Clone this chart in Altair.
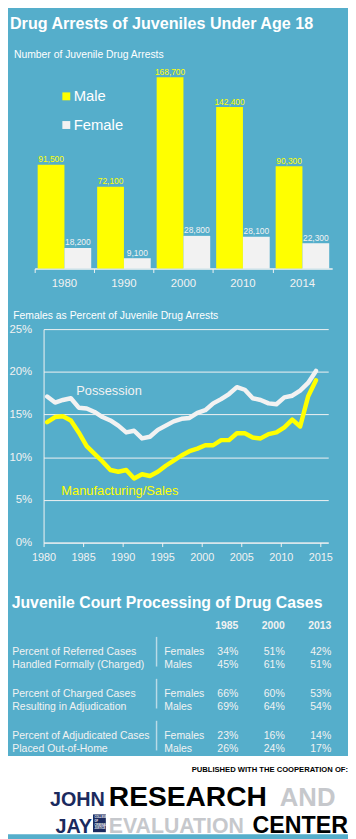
import altair as alt
import pandas as pd

BLUE = "#55AECB"
YELLOW = "#FFFF00"
LIGHT = "#F2F2F2"
NAVY = "#1B2A5E"
GRAY = "#C6C8CC"
FONT = "Liberation Sans, Arial, sans-serif"

W, H = 344, 831

# ---------------- data: bar chart ----------------
bar_years = ["1980", "1990", "2000", "2010", "2014"]
sexes = ["Male", "Female"]
male_arrests = [91500, 72100, 168700, 142400, 90300]
female_arrests = [18200, 9100, 28800, 28100, 22300]

# ---------------- data: line chart ----------------
line_years = list(range(1980, 2015))
series_names = ["Possession", "Manufacturing/Sales"]
possession_pct = [17.1, 16.4, 16.7, 16.9, 15.8, 15.7, 15.3, 14.7, 14.3, 13.7,
                  12.9, 13.1, 12.2, 12.4, 13.2, 13.7, 14.2, 14.5, 14.6, 15.2,
                  15.5, 16.3, 16.8, 17.4, 18.2, 17.9, 16.9, 16.7, 16.3, 16.2,
                  17.0, 17.2, 17.8, 18.7, 20.1]
sales_pct = [14.1, 14.7, 14.8, 14.3, 12.9, 11.3, 10.4, 9.5, 8.5, 8.3,
             8.5, 7.5, 8.0, 7.8, 8.3, 9.0, 9.6, 10.2, 10.7, 11.0,
             11.4, 11.4, 12.0, 12.0, 12.8, 12.8, 12.3, 12.2, 12.7, 12.9,
             13.5, 14.4, 13.6, 17.1, 19.0]
y_ticks = [0, 5, 10, 15, 20, 25]
x_ticks = [1980, 1985, 1990, 1995, 2000, 2005, 2010, 2015]

# ---------------- data: table ----------------
table_years = ["1985", "2000", "2013"]
table_measures = [
    ["Percent of Referred Cases", "Handled Formally (Charged)"],
    ["Percent of Charged Cases", "Resulting in Adjudication"],
    ["Percent of Adjudicated Cases", "Placed Out-of-Home"],
]
table_sexes = ["Females", "Males"]
female_pct = [[34, 51, 42], [66, 60, 53], [23, 16, 14]]
male_pct = [[45, 61, 51], [69, 64, 54], [26, 24, 17]]
table_groups = [1, 2, 3]

# ---------------- frames ----------------
bars_df = pd.DataFrame(
    [{"year": y, "sex": "Male", "count": m} for y, m in zip(bar_years, male_arrests)]
    + [{"year": y, "sex": "Female", "count": f} for y, f in zip(bar_years, female_arrests)]
)
line_df = pd.DataFrame(
    [{"year": y, "series": series_names[0], "pct": v} for y, v in zip(line_years, possession_pct)]
    + [{"year": y, "series": series_names[1], "pct": v} for y, v in zip(line_years, sales_pct)]
)
left_rows, value_rows = [], []
for g, meas, fv, mv in zip(table_groups, table_measures, female_pct, male_pct):
    left_rows.append({"group": g, "col": "label", "text": "\n".join(meas)})
    left_rows.append({"group": g, "col": "sex", "text": "\n".join(table_sexes)})
    for yr, a, b in zip(table_years, fv, mv):
        value_rows.append({"group": g, "year": yr, "text": f"{a}%\n{b}%"})
left_df = pd.DataFrame(left_rows)
value_df = pd.DataFrame(value_rows)
header_df = pd.DataFrame({"year": table_years})
group_df = pd.DataFrame({"group": table_groups})
one_row = pd.DataFrame({"k": [0]})


def label(text, x, y, size, color="white", weight="normal", align="left",
          baseline="alphabetic", font=FONT, line_height=None):
    kw = dict(text=text, align=align, baseline=baseline, fontSize=size,
              fontWeight=weight, color=color, font=font)
    if line_height is not None:
        kw["lineBreak"] = "\n"
        kw["lineHeight"] = line_height
    return alt.Chart(one_row).mark_text(**kw).encode(x=alt.value(x), y=alt.value(y))


# ---------------- white footer area (below the blue panel) ----------------
footer = alt.Chart(one_row).mark_rect(color="white").encode(
    x=alt.value(0), x2=alt.value(W), y=alt.value(752), y2=alt.value(H)
)

# ---------------- bar chart ----------------
BAR_BASE = 258.7
bar_x = alt.X(
    "year:N", sort=bar_years,
    scale=alt.Scale(domain=bar_years, range=[27, 328], paddingInner=0.1, paddingOuter=0.05),
    axis=alt.Axis(title=None, orient="bottom", offset=BAR_BASE - H, labelAngle=0,
                  labelColor=LIGHT, labelFontSize=11.5, labelFont=FONT, labelPadding=5,
                  domainColor=LIGHT, domainWidth=1.5, tickColor=LIGHT, tickSize=4,
                  bandPosition=-0.05, grid=False),
)
bar_y = alt.Y("count:Q", scale=alt.Scale(domain=[0, 180000], range=[BAR_BASE, 52.2]), axis=None)
bar_off = alt.XOffset("sex:N", sort=sexes,
                      scale=alt.Scale(domain=sexes, paddingInner=0, paddingOuter=0))
bar_color = alt.Color(
    "sex:N", sort=sexes,
    scale=alt.Scale(domain=sexes, range=[YELLOW, LIGHT]),
    legend=alt.Legend(title=None, orient="none", legendX=51.5, legendY=77,
                      direction="vertical", symbolType="square", symbolSize=64,
                      symbolStrokeWidth=0, symbolOpacity=1, labelFontSize=15,
                      labelColor="white", labelFont=FONT, labelOffset=0,
                      rowPadding=13, padding=0),
)
bars = alt.Chart(bars_df).mark_bar().encode(x=bar_x, y=bar_y, xOffset=bar_off, color=bar_color)
bar_text = alt.Chart(bars_df).mark_text(
    baseline="alphabetic", dy=-2.5, fontSize=8.5, font=FONT
).encode(x=bar_x, y=bar_y, xOffset=bar_off, color=bar_color,
         text=alt.Text("count:Q", format=",d"))
bar_layer = alt.layer(bars, bar_text)

# ---------------- line chart ----------------
L_BASE = 536
lines = alt.Chart(line_df).transform_calculate(
    xpos="datum.year + 0.45"
).mark_line(strokeWidth=4.5, strokeJoin="round", strokeCap="round").encode(
    x=alt.X("xpos:Q",
            scale=alt.Scale(domain=[1980, 2016], range=[36, 324], nice=False, zero=False),
            axis=alt.Axis(title=None, orient="bottom", offset=L_BASE - H, values=x_ticks,
                          format="d", labelColor=LIGHT, labelFontSize=11, labelFont=FONT,
                          labelPadding=5, domainColor=LIGHT, tickColor=LIGHT, tickSize=4,
                          grid=False, labelFlush=False)),
    y=alt.Y("pct:Q", scale=alt.Scale(domain=[0, 25], range=[L_BASE, 320], nice=False),
            axis=alt.Axis(title=None, orient="left", offset=-36, values=y_ticks,
                          labelExpr="datum.value + '%'", labelColor=LIGHT, labelFontSize=11.5,
                          labelFont=FONT, ticks=False, tickSize=0, labelPadding=12,
                          domainColor=LIGHT, grid=True, gridColor=LIGHT, gridWidth=1)),
    color=alt.Color("series:N", sort=series_names,
                    scale=alt.Scale(domain=series_names, range=[LIGHT, YELLOW]), legend=None),
    order=alt.Order("year:Q"),
)

# ---------------- table ----------------
ty = alt.Y("group:O",
           scale=alt.Scale(type="point", domain=table_groups, range=[646.4, 731.3], padding=0),
           axis=None)
tx_vals = alt.X("year:N", sort=table_years,
                scale=alt.Scale(type="point", domain=table_years, range=[233, 327], padding=0),
                axis=None)
left_text = alt.Chart(left_df).mark_text(
    align="left", baseline="middle", lineBreak="\n", lineHeight=13.5,
    fontSize=10.6, font=FONT, color=LIGHT
).encode(
    x=alt.X("col:N", scale=alt.Scale(type="point", domain=["label", "sex"], range=[4.3, 158], padding=0),
            axis=None),
    y=ty, text="text:N",
)
val_text = alt.Chart(value_df).mark_text(
    align="right", baseline="middle", lineBreak="\n", lineHeight=13.5,
    fontSize=10.6, font=FONT, color=LIGHT
).encode(x=tx_vals, y=ty, text="text:N")
head_text = alt.Chart(header_df).mark_text(
    align="right", baseline="middle", fontSize=10.5, fontWeight="bold", font=FONT, color=LIGHT
).encode(x=tx_vals, y=alt.value(620.3), text="year:N")
seps = alt.Chart(group_df).mark_tick(
    orient="vertical", size=30, thickness=1.5, color="#E4EEF2"
).encode(x=alt.value(150.3), y=ty)
table = alt.layer(left_text, val_text, head_text, seps).resolve_scale(x="independent")

# ---------------- texts ----------------
texts = [
    label("Drug Arrests of Juveniles Under Age 18", 2, 16, 16.3, weight="bold"),
    label("Number of Juvenile Drug Arrests", 6, 45.3, 10.5),
    label("Females as Percent of Juvenile Drug Arrests", 5.3, 309.3, 10.5),
    label("Possession", 69, 382.7, 13, color=LIGHT, baseline="middle"),
    label("Manufacturing/Sales", 54, 483.7, 13, color=YELLOW, baseline="middle"),
    label("Juvenile Court Processing of Drug Cases", 3.7, 602, 16, weight="bold"),
    label("PUBLISHED WITH THE COOPERATION OF:", 344, 768, 7.7, color="black",
          weight="bold", align="right"),
    label("JOHN", 98, 803, 20, color=NAVY, weight="bold", align="right"),
    label("JAY", 85, 830, 20, color=NAVY, weight="bold", align="right"),
    label("RESEARCH", 102, 803, 28.5, color="black", weight="bold"),
    label("AND", 275, 803, 26, color=GRAY, weight="bold"),
    label("EVALUATION", 102, 830, 21.5, color=GRAY, weight="bold"),
    label("CENTER", 344, 830, 23.5, color="black", weight="bold", align="right"),
    label("COLLEGE\nOF\nCRIMINAL\nJUSTICE", 87.5, 812.5, 2.6, color="white", weight="bold",
          baseline="top", line_height=3.9),
]
jay_box = alt.Chart(one_row).mark_rect(color=NAVY).encode(
    x=alt.value(86), x2=alt.value(99), y=alt.value(811), y2=alt.value(829)
)

chart = alt.layer(
    footer, bar_layer, lines, table, jay_box, *texts
).resolve_scale(
    x="independent", y="independent", color="independent"
).properties(
    width=W, height=H, padding=0, background=BLUE,
    autosize=alt.AutoSizeParams(type="none"),
).configure_view(strokeWidth=0)

chart.save("out.html", embed_options={"renderer": "svg", "actions": False})
